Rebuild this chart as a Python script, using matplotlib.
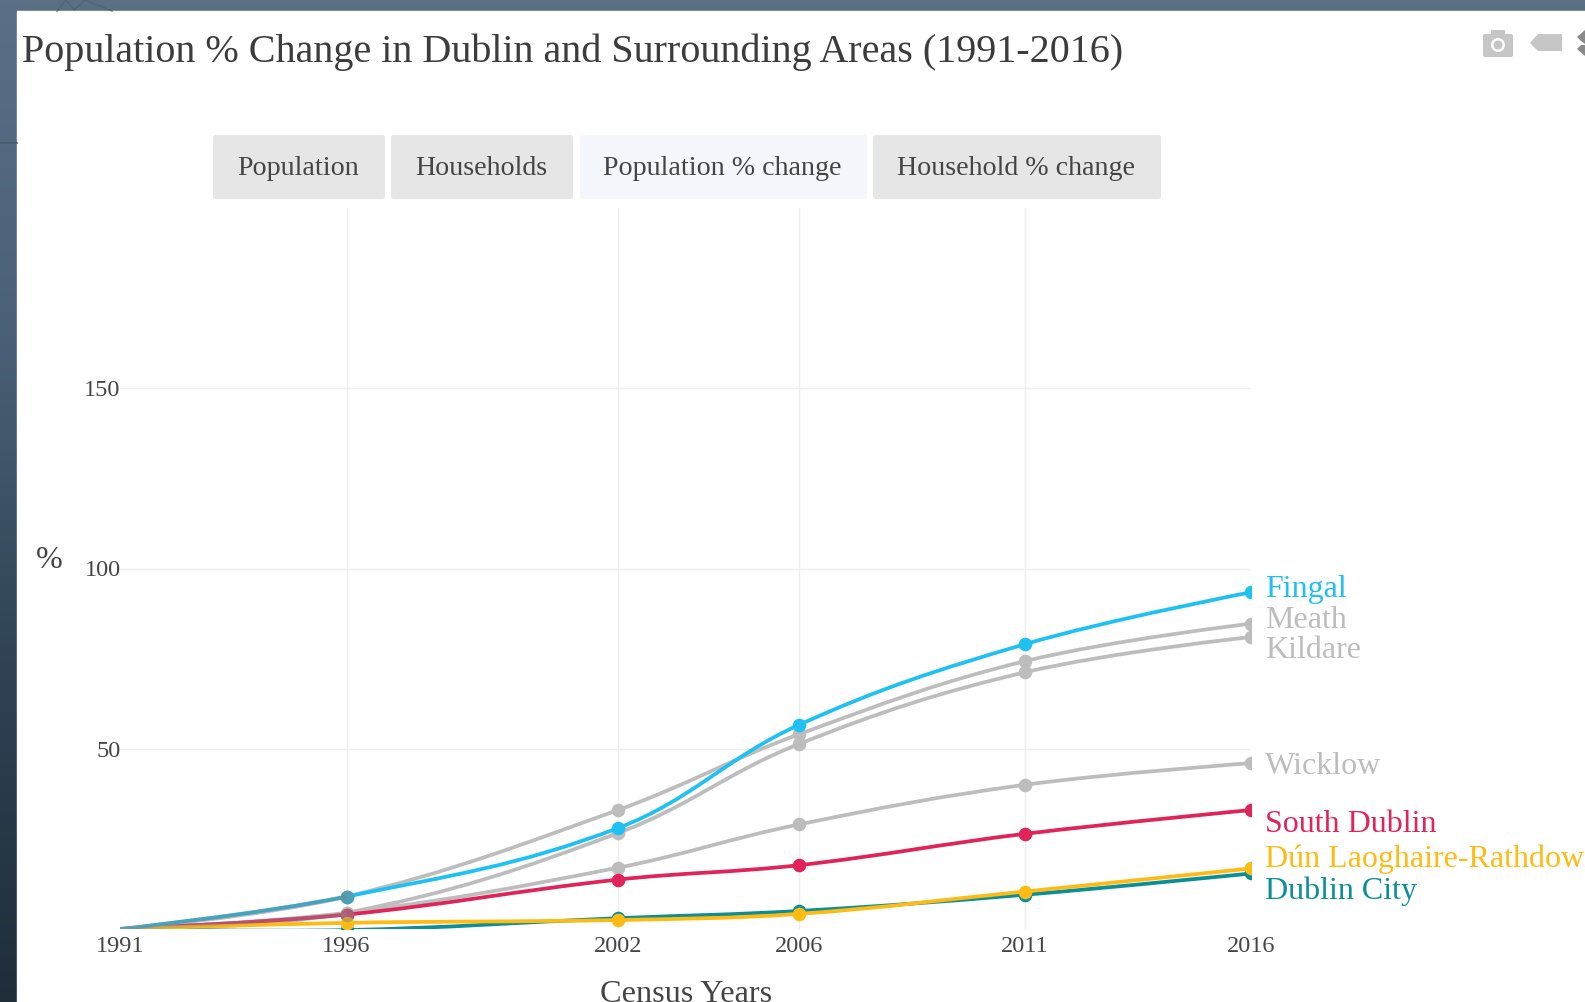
import numpy as np
import matplotlib
matplotlib.use('Agg')
import matplotlib.pyplot as plt
from matplotlib.colors import LinearSegmentedColormap
from matplotlib.patches import FancyBboxPatch, PathPatch, Polygon, Rectangle, Circle
from matplotlib.path import Path

plt.rcParams['font.family'] = ['Liberation Serif', 'DejaVu Serif']

W, H = 1585, 1002

# data
years = [1991, 1996, 2002, 2006, 2011, 2016]
fingal = [0, 9, 28, 56.6, 79, 93.4]
meath = [0, 9, 33, 54, 74.3, 84.7]
kildare = [0, 4.5, 26.6, 51.3, 71.2, 81]
wicklow = [0, 4.5, 17, 29, 40, 46]
south_dublin = [0, 4, 13.7, 17.7, 26.4, 33]
dun_laoghaire = [0, 1.7, 2.5, 4.2, 10.4, 16.8]
dublin_city = [0, -0.3, 3, 5, 9.5, 15.4]

y_ticks = [50, 100, 150]
buttons = ['Population', 'Households', 'Population % change', 'Household % change']

GREY = '#bdbdbd'
BLUE = '#1fc1f2'
RED = '#e0245a'
YELLOW = '#fdbb14'
TEAL = '#0b8f96'

series = [
    ('Dublin City', dublin_city, TEAL),
    ('Dún Laoghaire-Rathdown', dun_laoghaire, YELLOW),
    ('Wicklow', wicklow, GREY),
    ('Kildare', kildare, GREY),
    ('Meath', meath, GREY),
    ('South Dublin', south_dublin, RED),
    ('Fingal', fingal, BLUE),
]
label_rows = {'Fingal': 590, 'Meath': 620, 'Kildare': 651, 'Wicklow': 767,
              'South Dublin': 824, 'Dún Laoghaire-Rathdown': 859, 'Dublin City': 891}

# plot area in pixels
x0, x1 = 120.5, 1251
y_bottom, y_top = 929, 208


def spline(xs, ys, sx, sy, n_seg=None):
    # smooth curve through the points, same idea as plotly's spline lines
    p = np.column_stack([np.array(xs) * sx, np.array(ys) * sy])
    n = len(p)
    verts = [p[0]]
    codes = [Path.MOVETO]
    for i in range(n - 1 if n_seg is None else n_seg):
        d = np.hypot(*(p[i + 1] - p[i]))
        if i > 0:
            t = p[i + 1] - p[i - 1]
            c1 = p[i] + t / np.hypot(*t) * d * 0.38
        else:
            c1 = p[i]
        if i < n - 2:
            t = p[i + 2] - p[i]
            c2 = p[i + 1] - t / np.hypot(*t) * d * 0.38
        else:
            c2 = p[i + 1]
        verts += [c1, c2, p[i + 1]]
        codes += [Path.CURVE4] * 3
    verts = np.array(verts) / [sx, sy]
    return Path(verts, codes)


fig = plt.figure(figsize=(W / 100, H / 100), dpi=100)

# screenshot backdrop + page
bg = fig.add_axes([0, 0, 1, 1])
bg.set_xlim(0, W)
bg.set_ylim(H, 0)
bg.axis('off')
cmap = LinearSegmentedColormap.from_list('page', ['#5b7086', '#4a6076', '#2f4355', '#1f2d39'])
bg.imshow(np.linspace(0, 1, 256).reshape(-1, 1), cmap=cmap, extent=[0, W, H, 0], aspect='auto', zorder=0)
bg.add_patch(Rectangle((17, 11), W - 17, H - 11, color='white', zorder=1))
bg.plot([0, 17], [143, 143], color='#46596c', lw=1.2, zorder=1)
bg.plot([57, 66, 74, 85, 112], [11, 0, 10, 0, 11], color='#50647a', lw=1, zorder=1)

bg.text(22, 52, 'Population % Change in Dublin and Surrounding Areas (1991-2016)',
        fontsize=28.9, color='#3c3c3c', va='center', ha='left', zorder=3)

# the buttons
button_x = [(213, 385), (391, 573), (580, 867), (873, 1161)]
for i, (name, (a, b)) in enumerate(zip(buttons, button_x)):
    col = '#f4f8fd' if i == 2 else '#e6e6e6'
    bg.add_patch(FancyBboxPatch((a + 2, 137), b - a - 4, 60, boxstyle='round,pad=2,rounding_size=3',
                                fc=col, ec='none', zorder=2))
    bg.text((a + b) / 2 - 1, 168, name, fontsize=20.2, color='#444444', ha='center', va='center', zorder=3)

# modebar icons
ICON = '#c6c6c6'
bg.add_patch(FancyBboxPatch((1483, 34), 30, 23, boxstyle='round,pad=0,rounding_size=2', fc=ICON, ec='none', zorder=2))
bg.add_patch(Rectangle((1491, 30), 14, 5, fc=ICON, ec='none', zorder=2))
bg.add_patch(Circle((1498, 45), 7, fc='white', ec='none', zorder=3))
bg.add_patch(Circle((1498, 45), 4.5, fc=ICON, ec='none', zorder=3))
bg.add_patch(Polygon([(1530, 43), (1538, 34), (1562, 34), (1562, 51), (1538, 51)], fc=ICON, ec='none', zorder=2))
bg.add_patch(Polygon([(1577, 37), (1585, 30), (1585, 44), (1581, 41)], fc='#8a8a8a', ec='none', zorder=2))
bg.add_patch(Polygon([(1577, 49), (1581, 45), (1585, 45), (1585, 56)], fc='#8a8a8a', ec='none', zorder=2))

# chart
ax = fig.add_axes([x0 / W, 1 - y_bottom / H, (x1 - x0) / W, (y_bottom - y_top) / H])
ax.patch.set_alpha(0)
ax.set_xlim(1991, 2016)
ax.set_ylim(0, 200)
for s in ax.spines.values():
    s.set_visible(False)
ax.set_xticks(years)
ax.set_yticks(y_ticks)
ax.tick_params(length=0, labelsize=17.5, labelcolor='#444444')
ax.tick_params(axis='x', pad=5)
ax.tick_params(axis='y', pad=0)
ax.grid(color='#eeeeee', lw=1)
ax.set_axisbelow(True)
# no vertical grid at the two ends of the axis
ax.get_xgridlines()[0].set_visible(False)
ax.get_xgridlines()[-1].set_visible(False)

sx = (x1 - x0) / 25
sy = (y_bottom - y_top) / 200

order = [3, 4, 2, 0, 5, 1, 6]
for k, idx in enumerate(order):
    name, vals, col = series[idx]
    ax.add_patch(PathPatch(spline(years, vals, sx, sy), fc='none', ec=col, lw=2.7, zorder=3 + k * 0.1))
    ax.plot(years[1:], vals[1:], 'o', color=col, ms=9.8, mew=0, zorder=3 + k * 0.1 + 0.05)

# grey lines sit over the colours in the first stretch, which dulls them
ax.add_patch(PathPatch(spline(years, fingal, sx, sy, 1), fc='none', ec='#7d7d7d', lw=2.7, alpha=0.45, zorder=4))
ax.add_patch(PathPatch(spline(years, south_dublin, sx, sy, 1), fc='none', ec='#8a8a8a', lw=2.7, alpha=0.4, zorder=4))
ax.plot(years[1], fingal[1], 'o', color='#7d7d7d', ms=9.8, mew=0, alpha=0.5, zorder=4)
ax.plot(years[1], south_dublin[1], 'o', color='#8a8a8a', ms=9.8, mew=0, alpha=0.5, zorder=4)

# direct labels
for name, vals, col in series:
    bg.text(1265, label_rows[name], name, fontsize=23, color=col, va='center', ha='left', zorder=3)

bg.text(49, 561, '%', fontsize=23, color='#444444', ha='center', va='center', zorder=3)
bg.text(686, 995, 'Census Years', fontsize=23.2, color='#444444', ha='center', va='center', zorder=3)

fig.savefig('out.png', dpi=100)
